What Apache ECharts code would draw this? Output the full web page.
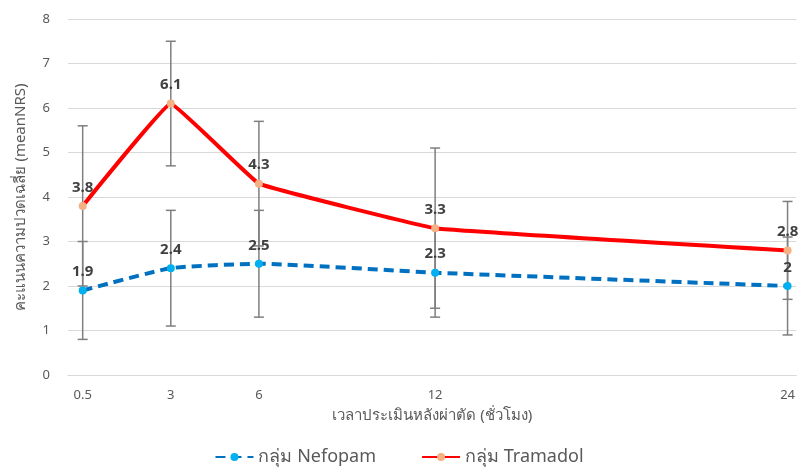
<!DOCTYPE html>
<html><head><meta charset="utf-8">
<script src="https://cdn.jsdelivr.net/npm/echarts@6/dist/echarts.min.js"></script>
<style>html,body{margin:0;padding:0;background:#fff}#c{width:798px;height:468px}</style>
</head><body><div id="c"></div>
<script>
var xPos = [0, 3, 6, 12, 24];
var xLabels = ['0.5', '3', '6', '12', '24'];
var nefoMean = [1.9, 2.4, 2.5, 2.3, 2.0];
var nefoSD = [1.1, 1.3, 1.2, 1.0, 1.1];
var tramMean = [3.8, 6.1, 4.3, 3.3, 2.8];
var tramSD = [1.8, 1.4, 1.4, 1.8, 1.1];
var nefoName = 'กลุ่ม Nefopam';
var tramName = 'กลุ่ม Tramadol';

var FONT = '"Noto Sans", "DejaVu Sans", sans-serif';
function pts(mean) { return xPos.map(function (x, i) { return [x, mean[i]]; }); }
function errs(mean, sd) { return xPos.map(function (x, i) { return [x, mean[i] - sd[i], mean[i] + sd[i]]; }); }

function errRender(params, api) {
  var x = api.value(0), lo = api.value(1), hi = api.value(2);
  var p1 = api.coord([x, lo]), p2 = api.coord([x, hi]);
  var w = 5;
  var st = { stroke: '#7f7f7f', lineWidth: 1.5 };
  return {
    type: 'group',
    children: [
      { type: 'line', shape: { x1: p1[0], y1: p1[1], x2: p2[0], y2: p2[1] }, style: st },
      { type: 'line', shape: { x1: p1[0] - w, y1: p1[1], x2: p1[0] + w, y2: p1[1] }, style: st },
      { type: 'line', shape: { x1: p2[0] - w, y1: p2[1], x2: p2[0] + w, y2: p2[1] }, style: st }
    ]
  };
}

var chart = echarts.init(document.getElementById('c'));
chart.setOption({
  animation: false,
  textStyle: { fontFamily: FONT },
  grid: { left: 68, right: 0, top: 19, bottom: 93 },
  legend: {
    bottom: -3, left: 'center', itemWidth: 38, itemHeight: 10, itemGap: 45,
    textStyle: { color: '#595959', fontSize: 18, fontFamily: FONT },
    data: [nefoName, tramName]
  },
  xAxis: {
    type: 'value', min: -0.5, max: 24.3,
    axisLine: { show: true, lineStyle: { color: '#d9d9d9' } },
    axisTick: { show: false },
    splitLine: { show: false },
    axisLabel: {
      customValues: xPos, color: '#595959', fontSize: 13, margin: 14,
      formatter: function (v) { var i = xPos.indexOf(v); return i >= 0 ? xLabels[i] : ''; }
    },
    name: 'เวลาประเมินหลังผ่าตัด (ชั่วโมง)', nameLocation: 'middle', nameGap: 33,
    nameTextStyle: { color: '#595959', fontSize: 15 }
  },
  yAxis: {
    type: 'value', min: 0, max: 8, interval: 1,
    axisLine: { show: false }, axisTick: { show: false },
    splitLine: { lineStyle: { color: '#d9d9d9', width: 1 } },
    axisLabel: { color: '#595959', fontSize: 13, margin: 18 },
    name: 'คะแนนความปวดเฉลี่ย (meanNRS)', nameLocation: 'middle', nameGap: 40,
    nameTextStyle: { color: '#595959', fontSize: 15 }
  },
  series: [
    { type: 'custom', renderItem: errRender, data: errs(nefoMean, nefoSD), z: 1, silent: true },
    { type: 'custom', renderItem: errRender, data: errs(tramMean, tramSD), z: 1, silent: true },
    {
      name: nefoName, type: 'line', data: pts(nefoMean), smooth: 0.15, z: 3,
      symbol: 'circle', symbolSize: 8,
      lineStyle: { color: '#0070C0', width: 4, type: [10, 6] },
      itemStyle: { color: '#00B0F0' },
      label: { show: true, position: 'top', distance: 7, color: '#404040', fontWeight: 'bold', fontSize: 15 }
    },
    {
      name: tramName, type: 'line', data: pts(tramMean), smooth: 0.06, z: 4,
      symbol: 'circle', symbolSize: 8,
      lineStyle: { color: '#FF0000', width: 4 },
      itemStyle: { color: '#F4B183' },
      label: { show: true, position: 'top', distance: 7, color: '#404040', fontWeight: 'bold', fontSize: 15 }
    }
  ]
});
</script></body></html>
